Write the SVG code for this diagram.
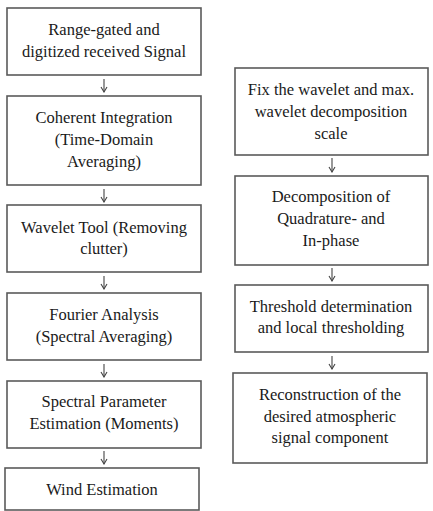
<svg xmlns="http://www.w3.org/2000/svg" width="433" height="511" viewBox="0 0 433 511">
  <style>
    .box { fill: #ffffff; stroke: #5a5a5a; stroke-width: 1.6; }
    .lbl { font-size: 16.5px; fill: #1a1a1a; text-anchor: middle; }
    .arr { stroke: #444; stroke-width: 1.1; fill: none; marker-end: url(#tip); }
  </style>
  <defs>
    <marker id="tip" viewBox="0 0 8 8" refX="7" refY="4" markerWidth="8" markerHeight="8" markerUnits="userSpaceOnUse" orient="auto">
      <path d="M2,1 L7,4 L2,7" fill="none" stroke="#444" stroke-width="1.1"/>
    </marker>
  </defs>
  <rect width="433" height="511" fill="#ffffff"/>

  <g font-family="Liberation Serif, DejaVu Serif, serif">
  <!-- left column: processing chain -->
  <g id="n-range">
    <rect class="box" x="7" y="8" width="194" height="67"/>
    <text class="lbl" x="104" y="35">Range-gated and</text>
    <text class="lbl" x="104" y="57">digitized received Signal</text>
  </g>
  <g id="n-coherent">
    <rect class="box" x="7" y="96" width="194" height="89"/>
    <text class="lbl" x="104" y="123">Coherent Integration</text>
    <text class="lbl" x="104" y="145">(Time-Domain</text>
    <text class="lbl" x="104" y="167">Averaging)</text>
  </g>
  <g id="n-wavelet">
    <rect class="box" x="7" y="205" width="194" height="67"/>
    <text class="lbl" x="104" y="233">Wavelet Tool (Removing</text>
    <text class="lbl" x="104" y="254">clutter)</text>
  </g>
  <g id="n-fourier">
    <rect class="box" x="7" y="293" width="194" height="67"/>
    <text class="lbl" x="104" y="320">Fourier Analysis</text>
    <text class="lbl" x="104" y="342">(Spectral Averaging)</text>
  </g>
  <g id="n-moments">
    <rect class="box" x="7" y="381" width="194" height="67"/>
    <text class="lbl" x="104" y="407">Spectral Parameter</text>
    <text class="lbl" x="104" y="429">Estimation (Moments)</text>
  </g>
  <g id="n-wind">
    <rect class="box" x="5" y="468" width="194" height="42"/>
    <text class="lbl" x="102" y="495">Wind Estimation</text>
  </g>

  <!-- right column: wavelet tool detail -->
  <g id="n-fix">
    <rect class="box" x="235" y="68" width="193" height="87"/>
    <text class="lbl" x="331" y="95">Fix the wavelet and max.</text>
    <text class="lbl" x="331" y="117">wavelet decomposition</text>
    <text class="lbl" x="331" y="139">scale</text>
  </g>
  <g id="n-decomp">
    <rect class="box" x="235" y="176" width="193" height="89"/>
    <text class="lbl" x="331" y="202">Decomposition of</text>
    <text class="lbl" x="331" y="224">Quadrature- and</text>
    <text class="lbl" x="331" y="246">In-phase</text>
  </g>
  <g id="n-threshold">
    <rect class="box" x="235" y="285" width="193" height="67"/>
    <text class="lbl" x="331" y="312">Threshold determination</text>
    <text class="lbl" x="331" y="333">and local thresholding</text>
  </g>
  <g id="n-recon">
    <rect class="box" x="233" y="373" width="194" height="90"/>
    <text class="lbl" x="330" y="400">Reconstruction of the</text>
    <text class="lbl" x="330" y="422">desired atmospheric</text>
    <text class="lbl" x="330" y="443">signal component</text>
  </g>
  </g>

  <!-- connectors -->
  <g id="edges">
    <line class="arr" x1="104" y1="79" x2="104" y2="92"/>
    <line class="arr" x1="104" y1="189" x2="104" y2="202"/>
    <line class="arr" x1="104" y1="276" x2="104" y2="289"/>
    <line class="arr" x1="104" y1="364" x2="104" y2="377"/>
    <line class="arr" x1="104" y1="451" x2="104" y2="464"/>
    <line class="arr" x1="332" y1="158" x2="332" y2="172"/>
    <line class="arr" x1="332" y1="268" x2="332" y2="281"/>
    <line class="arr" x1="332" y1="356" x2="332" y2="369"/>
  </g>
</svg>
